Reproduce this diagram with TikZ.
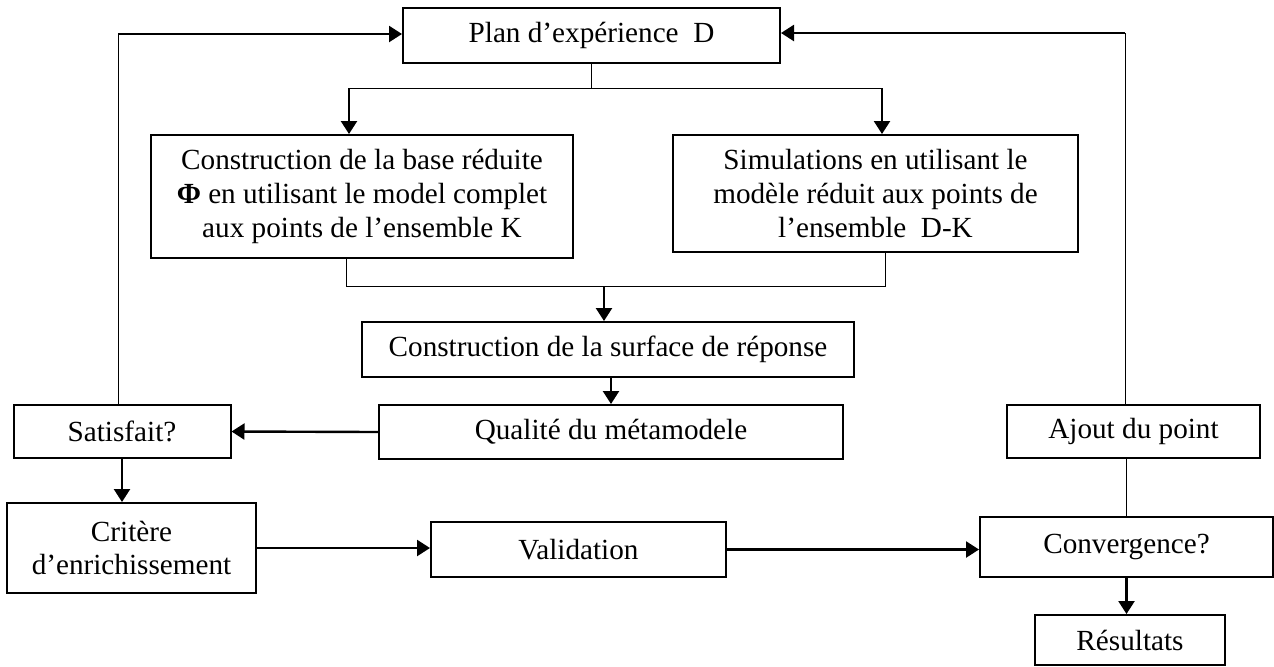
\documentclass[tikz,border=0pt]{standalone}
\usepackage{fontspec}
\setmainfont{Liberation Serif}
\usetikzlibrary{arrows.meta}

\tikzset{
	etape/.style 2 args = {draw, line width=1pt, align=center, inner sep=0pt,
		minimum width=#1, minimum height=#2, font=\fontsize{14.6}{16.8}\selectfont},
	fleche/.style = {line width=1.2pt, -{Triangle[length=6.5pt,width=8pt]}},
	trait/.style = {line width=0.5pt},
}

\begin{document}
\begin{tikzpicture}[x=0.5pt, y=-0.5pt]
	\useasboundingbox (0,0) rectangle (1274,666);
		\node[etape={188.5pt}{27.5pt}] (plan) at (591.5,35.5) {Plan d’expérience~~D};
		\node[etape={211pt}{61.5pt}] (constr) at (362,196.5) {Construction de la base réduite\\\textbf{Φ} en utilisant le model complet\\aux points de l’ensemble K};
		\node[etape={202.5pt}{58.5pt}] (simul) at (875.5,193.5) {Simulations en utilisant le\\modèle réduit aux points de\\l’ensemble~~D-K};
		\node[etape={246pt}{27.5pt}] (surface) at (608,349.5) {Construction de la surface de réponse};
		\node[etape={232pt}{27pt}] (qualite) at (611,432) {Qualité du métamodele};
		\node[etape={108.5pt}{26.5pt}] (satisf) at (122,431.5) {Satisfait?};
		\node[etape={124.5pt}{45pt}] (critere) at (131.5,548) {Critère\\d’enrichissement};
		\node[etape={147.5pt}{27.5pt}] (valid) at (578.5,549.5) {Validation};
		\node[etape={146.5pt}{30pt}] (conv) at (1126.5,547) {Convergence?};
		\node[etape={126.5pt}{26.5pt}] (ajout) at (1133.5,431.5) {Ajout du point};
		\node[etape={95pt}{25pt}] (result) at (1130,640) {Résultats};

		\coordinate (bg) at (349,88);
		\coordinate (bd) at (882,88);
		\coordinate (jg) at (346,286);
		\coordinate (jd) at (885,286);
		\coordinate (jm) at (604,286);
		\coordinate (rg) at (118,34);
		\coordinate (rd) at (1125,33);

		\draw[trait] (plan.south) -- (plan.south |- bg);
		\draw[trait] (bg) -- (bd);
		\draw[fleche] (bg) -- (bg |- constr.north);
		\draw[fleche] (bd) -- (bd |- simul.north);
		\draw[trait] (jg |- constr.south) -- (jg) -- (jd) -- (jd |- simul.south);
		\draw[fleche] (jm) -- (jm |- surface.north);
		\draw[fleche] (qualite.north |- surface.south) -- (qualite.north);
		\draw[fleche] (qualite.west) -- (satisf.east);
		\draw[fleche] (satisf.south) -- (satisf.south |- critere.north);
		\draw[fleche] (critere.east) -- (critere.east -| valid.west);
		\draw[fleche] (valid.east) -- (valid.east -| conv.west);
		\draw[trait] (conv.north) -- (conv.north |- ajout.south);
		\draw[fleche] (conv.south) -- (conv.south |- result.north);
	%	retours vers le plan d'experience
		\draw[trait] (rg |- satisf.north) -- (rg);
		\draw[fleche] (rg) -- (rg -| plan.west);
		\draw[trait] (rd |- ajout.north) -- (rd);
		\draw[fleche] (rd) -- (rd -| plan.east);
	\end{tikzpicture}
\end{document}
